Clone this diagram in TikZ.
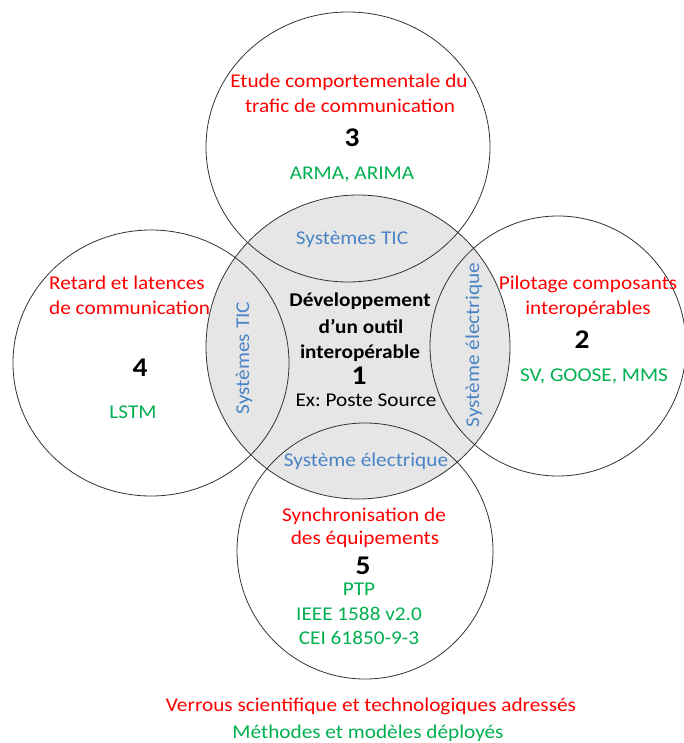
\documentclass[tikz,border=0pt]{standalone}
\usepackage{fontspec}
\setmainfont{Carlito}[FakeStretch=1.09]
\definecolor{cred}{HTML}{FF0000}
\definecolor{cgreen}{HTML}{00B050}
\definecolor{cblue}{HTML}{4A84C6}
\definecolor{cgrey}{HTML}{E6E6E6}
\definecolor{cline}{HTML}{333333}
\frenchspacing
\begin{document}
\begin{tikzpicture}[x=1pt,y=-1pt,
  lbl/.style={inner sep=0pt, text height=12pt, text depth=0pt, font=\fontsize{19.5}{22}\selectfont},
  redt/.style={lbl, text=cred},
  greent/.style={lbl, text=cgreen},
  bluet/.style={lbl, text=cblue},
  blackt/.style={lbl, text=black},
  boldt/.style={lbl, text=black, font=\fontsize{19.5}{22}\selectfont\bfseries},
  numt/.style={inner sep=0pt, text height=17pt, text depth=0pt, text=black, font=\fontsize{27}{30}\selectfont\bfseries},
  ring/.style={draw=cline, line width=0.8pt}]
\useasboundingbox (0,0) rectangle (684,743);
% circle centres
\coordinate (c1) at (358,347);
\coordinate (c3) at (348,147);
\coordinate (c4) at (151,363);
\coordinate (c2) at (558,346);
\coordinate (c5) at (365,551);
% central grey disc
\fill[cgrey] (c1) circle [radius=152];
\draw[ring] (c1) circle [radius=152];
\draw[ring] (c3) ellipse [x radius=142, y radius=135];
\draw[ring] (c4) ellipse [x radius=138, y radius=133];
\draw[ring] (c2) ellipse [x radius=128, y radius=130];
\draw[ring] (c5) circle [radius=128];
% circle 3
\node[redt] (t3a) at (349,82) {Etude comportementale du};
\node[redt] (t3b) at (350,107) {trafic de communication};
\node[numt] (n3) at (352,138) {3};
\node[greent] (m3) at (352,174) {ARMA, ARIMA};
\node[bluet] (s3) at (352,238) {Systèmes TIC};
% circle 4
\node[redt, anchor=west] (t4a) at (49,283) {Retard et latences};
\node[redt, anchor=west] (t4b) at (49,308) {de communication};
\node[numt] (n4) at (140,368) {4};
\node[greent] (m4) at (133,412) {LSTM};
\node[bluet, rotate=90] (s4) at (243,358) {Systèmes TIC};
% circle 2
\node[redt] (t2a) at (588,283) {Pilotage composants};
\node[redt] (t2b) at (588,308) {interopérables};
\node[numt] (n2) at (582,340) {2};
\node[greent] (m2) at (594,375) {SV, GOOSE, MMS};
\node[bluet, rotate=90] (s2) at (473,345) {Système électrique};
% centre
\node[boldt] (t1a) at (360,300) {Développement};
\node[boldt] (t1b) at (361,327) {d’un outil};
\node[boldt] (t1c) at (360,352) {interopérable};
\node[numt] (n1) at (359,376) {1};
\node[blackt] (e1) at (366,400) {Ex: Poste Source};
\node[bluet] (s5) at (366,460) {Système électrique};
% circle 5
\node[redt] (t5a) at (364,515) {Synchronisation de};
\node[redt] (t5b) at (365,538) {des équipements};
\node[numt] (n5) at (363,566) {5};
\node[greent] (m5a) at (359,589) {PTP};
\node[greent] (m5b) at (359,614) {IEEE 1588 v2.0};
\node[greent] (m5c) at (359,638) {CEI 61850-9-3};
% legend
\node[redt] (l1) at (371,705) {Verrous scientifique et technologiques adressés};
\node[greent] (l2) at (368,732) {Méthodes et modèles déployés};
\end{tikzpicture}
\end{document}
